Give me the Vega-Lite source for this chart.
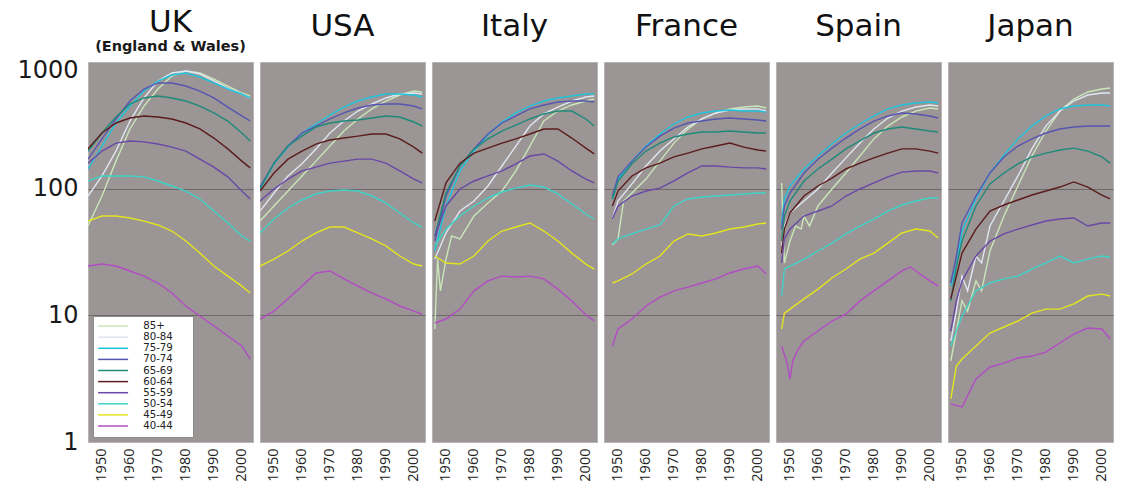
{
  "$schema": "https://vega.github.io/schema/vega-lite/v6.json",
  "background": "white",
  "padding": {"left": 16, "top": 6, "right": 3, "bottom": 2},
  "data": {
    "values": [
      {"c":"UK","yr":1945,"85+":50.7,"80-84":87.5,"75-79":143,"70-74":171,"65-69":198,"60-64":206,"55-59":159,"50-54":115,"45-49":55.5,"40-44":24.5},
      {"c":"UK","yr":1950,"85+":87.5,"80-84":126,"75-79":217,"70-74":247,"65-69":275,"60-64":275,"55-59":198,"50-54":126,"45-49":60.8,"40-44":25.4},
      {"c":"UK","yr":1955,"85+":165,"80-84":198,"75-79":330,"70-74":355,"65-69":368,"60-64":330,"55-59":229,"50-54":126,"45-49":60.8,"40-44":24.5},
      {"c":"UK","yr":1960,"85+":296,"80-84":342,"75-79":449,"70-74":492,"65-69":466,"60-64":361,"55-59":238,"50-54":126,"45-49":58.7,"40-44":22.4},
      {"c":"UK","yr":1965,"85+":449,"80-84":520,"75-79":590,"70-74":612,"65-69":520,"60-64":375,"55-59":234,"50-54":124,"45-49":55.5,"40-44":20.4},
      {"c":"UK","yr":1970,"85+":612,"80-84":708,"75-79":708,"70-74":683,"65-69":539,"60-64":368,"55-59":225,"50-54":115,"45-49":51.7,"40-44":18.0},
      {"c":"UK","yr":1975,"85+":775,"80-84":819,"75-79":789,"70-74":683,"65-69":520,"60-64":355,"55-59":213,"50-54":105,"45-49":46.3,"40-44":15.0},
      {"c":"UK","yr":1980,"85+":849,"80-84":849,"75-79":819,"70-74":646,"65-69":492,"60-64":330,"55-59":198,"50-54":95.8,"45-49":38.6,"40-44":11.85},
      {"c":"UK","yr":1985,"85+":819,"80-84":804,"75-79":761,"70-74":590,"65-69":449,"60-64":296,"55-59":171,"50-54":82.9,"45-49":31.0,"40-44":9.88},
      {"c":"UK","yr":1990,"85+":734,"80-84":708,"75-79":683,"70-74":520,"65-69":396,"60-64":251,"55-59":148,"50-54":66.6,"45-49":24.5,"40-44":8.24},
      {"c":"UK","yr":1995,"85+":646,"80-84":623,"75-79":612,"70-74":441,"65-69":342,"60-64":206,"55-59":124,"50-54":53.6,"45-49":20.4,"40-44":6.87},
      {"c":"UK","yr":2000,"85+":569,"80-84":559,"75-79":559,"70-74":375,"65-69":275,"60-64":165,"55-59":95.8,"50-54":42.3,"45-49":17.0,"40-44":5.73},
      {"c":"UK","yr":2003,"85+":539,"80-84":520,"75-79":520,"70-74":342,"65-69":238,"60-64":146,"55-59":82.9,"50-54":38.6,"45-49":15.0,"40-44":4.52},

      {"c":"USA","yr":1945,"85+":55.5,"80-84":66.6,"75-79":99.4,"70-74":103,"65-69":99.4,"60-64":95.8,"55-59":79.9,"50-54":44.7,"45-49":24.5,"40-44":9.35},
      {"c":"USA","yr":1950,"85+":73.0,"80-84":92.4,"75-79":157,"70-74":159,"65-69":159,"60-64":133,"55-59":99.4,"50-54":57.6,"45-49":27.8,"40-44":10.8},
      {"c":"USA","yr":1955,"85+":95.8,"80-84":126,"75-79":213,"70-74":217,"65-69":217,"60-64":171,"55-59":119,"50-54":70.4,"45-49":32.2,"40-44":13.5},
      {"c":"USA","yr":1960,"85+":126,"80-84":157,"75-79":275,"70-74":275,"65-69":260,"60-64":198,"55-59":138,"50-54":81.4,"45-49":38.6,"40-44":17.0},
      {"c":"USA","yr":1965,"85+":165,"80-84":206,"75-79":324,"70-74":312,"65-69":307,"60-64":225,"55-59":148,"50-54":90.8,"45-49":44.7,"40-44":21.6},
      {"c":"USA","yr":1970,"85+":217,"80-84":275,"75-79":381,"70-74":355,"65-69":330,"60-64":242,"55-59":159,"50-54":95.8,"45-49":49.8,"40-44":22.4},
      {"c":"USA","yr":1975,"85+":285,"80-84":342,"75-79":441,"70-74":396,"65-69":342,"60-64":251,"55-59":165,"50-54":97.6,"45-49":49.8,"40-44":19.4},
      {"c":"USA","yr":1980,"85+":355,"80-84":410,"75-79":492,"70-74":433,"65-69":348,"60-64":260,"55-59":171,"50-54":95.8,"45-49":44.7,"40-44":17.0},
      {"c":"USA","yr":1985,"85+":426,"80-84":466,"75-79":529,"70-74":458,"65-69":361,"60-64":270,"55-59":171,"50-54":87.5,"45-49":40.1,"40-44":15.0},
      {"c":"USA","yr":1990,"85+":492,"80-84":520,"75-79":559,"70-74":466,"65-69":375,"60-64":270,"55-59":159,"50-54":77.1,"45-49":35.3,"40-44":13.5},
      {"c":"USA","yr":1995,"85+":549,"80-84":559,"75-79":559,"70-74":466,"65-69":368,"60-64":247,"55-59":138,"50-54":64.3,"45-49":29.4,"40-44":11.85},
      {"c":"USA","yr":2000,"85+":590,"80-84":569,"75-79":549,"70-74":449,"65-69":336,"60-64":213,"55-59":119,"50-54":53.6,"45-49":25.4,"40-44":10.8},
      {"c":"USA","yr":2003,"85+":580,"80-84":559,"75-79":529,"70-74":426,"65-69":312,"60-64":191,"55-59":111,"50-54":49.8,"45-49":24.5,"40-44":10.2},

      {"c":"Italy","yr":1946,"85+":7.8,"80-84":27.8,"75-79":32.2,"70-74":38.6,"65-69":42.3,"60-64":55.5,"55-59":42.3,"50-54":35.3,"45-49":29.4,"40-44":8.7},
      {"c":"Italy","yr":1947,"85+":27.8},
      {"c":"Italy","yr":1948,"85+":15.6},
      {"c":"Italy","yr":1950,"85+":27.8,"80-84":44.7,"75-79":73.0,"70-74":87.5,"65-69":92.4,"60-64":111,"55-59":73.0,"50-54":48.0,"45-49":25.9,"40-44":9.35},
      {"c":"Italy","yr":1952,"85+":42.3},
      {"c":"Italy","yr":1955,"85+":40.1,"80-84":66.6,"75-79":138,"70-74":151,"65-69":151,"60-64":159,"55-59":99.4,"50-54":60.8,"45-49":25.4,"40-44":11.2},
      {"c":"Italy","yr":1960,"85+":60.8,"80-84":79.9,"75-79":198,"70-74":206,"65-69":206,"60-64":191,"55-59":115,"50-54":73.0,"45-49":29.4,"40-44":15.6},
      {"c":"Italy","yr":1965,"85+":77.1,"80-84":105,"75-79":265,"70-74":270,"65-69":247,"60-64":209,"55-59":126,"50-54":84.4,"45-49":38.6,"40-44":18.7},
      {"c":"Italy","yr":1970,"85+":95.8,"80-84":151,"75-79":336,"70-74":330,"65-69":285,"60-64":229,"55-59":138,"50-54":94.1,"45-49":46.3,"40-44":20.4},
      {"c":"Italy","yr":1975,"85+":138,"80-84":217,"75-79":396,"70-74":375,"65-69":318,"60-64":247,"55-59":157,"50-54":101,"45-49":49.8,"40-44":20.1},
      {"c":"Italy","yr":1980,"85+":217,"80-84":312,"75-79":449,"70-74":426,"65-69":355,"60-64":270,"55-59":181,"50-54":107,"45-49":53.6,"40-44":20.4},
      {"c":"Italy","yr":1985,"85+":342,"80-84":389,"75-79":492,"70-74":458,"65-69":389,"60-64":296,"55-59":188,"50-54":103,"45-49":46.3,"40-44":19.4},
      {"c":"Italy","yr":1990,"85+":410,"80-84":441,"75-79":520,"70-74":483,"65-69":410,"60-64":296,"55-59":165,"50-54":90.8,"45-49":38.6,"40-44":16.1},
      {"c":"Italy","yr":1995,"85+":458,"80-84":492,"75-79":539,"70-74":492,"65-69":410,"60-64":251,"55-59":138,"50-54":75.7,"45-49":31.0,"40-44":13.0},
      {"c":"Italy","yr":2000,"85+":492,"80-84":529,"75-79":559,"70-74":492,"65-69":355,"60-64":209,"55-59":119,"50-54":63.1,"45-49":25.4,"40-44":10.1},
      {"c":"Italy","yr":2003,"85+":510,"80-84":539,"75-79":559,"70-74":483,"65-69":312,"60-64":188,"55-59":111,"50-54":57.6,"45-49":23.2,"40-44":9.02},

      {"c":"France","yr":1948,"85+":35.9,"80-84":57.6,"75-79":82.9,"70-74":87.5,"65-69":82.9,"60-64":73.0,"55-59":57.6,"50-54":36.6,"45-49":18.0,"40-44":5.73},
      {"c":"France","yr":1950,"85+":40.1,"80-84":79.9,"75-79":119,"70-74":124,"65-69":115,"60-64":95.8,"55-59":73.0,"50-54":40.1,"45-49":18.7,"40-44":7.8},
      {"c":"France","yr":1952,"85+":79.9},
      {"c":"France","yr":1955,"85+":92.4,"80-84":109,"75-79":165,"70-74":165,"65-69":157,"60-64":126,"55-59":87.5,"50-54":43.9,"45-49":21.2,"40-44":9.35},
      {"c":"France","yr":1960,"85+":119,"80-84":151,"75-79":217,"70-74":213,"65-69":198,"60-64":146,"55-59":95.8,"50-54":48.0,"45-49":25.4,"40-44":11.85},
      {"c":"France","yr":1965,"85+":165,"80-84":198,"75-79":270,"70-74":260,"65-69":229,"60-64":159,"55-59":101,"50-54":51.7,"45-49":29.4,"40-44":13.9},
      {"c":"France","yr":1970,"85+":229,"80-84":247,"75-79":324,"70-74":301,"65-69":256,"60-64":178,"55-59":115,"50-54":73.0,"45-49":38.6,"40-44":15.6},
      {"c":"France","yr":1975,"85+":296,"80-84":307,"75-79":368,"70-74":330,"65-69":270,"60-64":191,"55-59":133,"50-54":82.9,"45-49":43.9,"40-44":16.7},
      {"c":"France","yr":1980,"85+":355,"80-84":355,"75-79":396,"70-74":342,"65-69":280,"60-64":206,"55-59":151,"50-54":85.9,"45-49":42.3,"40-44":18.0},
      {"c":"France","yr":1985,"85+":396,"80-84":396,"75-79":410,"70-74":355,"65-69":280,"60-64":217,"55-59":151,"50-54":87.5,"45-49":44.7,"40-44":19.4},
      {"c":"France","yr":1990,"85+":426,"80-84":418,"75-79":418,"70-74":361,"65-69":285,"60-64":229,"55-59":148,"50-54":89.1,"45-49":48.0,"40-44":21.6},
      {"c":"France","yr":1995,"85+":441,"80-84":426,"75-79":410,"70-74":355,"65-69":280,"60-64":213,"55-59":146,"50-54":90.8,"45-49":49.8,"40-44":23.2},
      {"c":"France","yr":2000,"85+":449,"80-84":426,"75-79":410,"70-74":348,"65-69":275,"60-64":202,"55-59":146,"50-54":92.4,"45-49":52.6,"40-44":24.5},
      {"c":"France","yr":2003,"85+":433,"80-84":410,"75-79":403,"70-74":342,"65-69":275,"60-64":198,"55-59":143,"50-54":92.4,"45-49":53.6,"40-44":21.2},

      {"c":"Spain","yr":1947,"85+":111,"80-84":35.3,"75-79":53.6,"70-74":48.0,"65-69":38.6,"60-64":31.0,"55-59":25.9,"50-54":14.2,"45-49":7.8,"40-44":5.73},
      {"c":"Spain","yr":1948,"85+":25.9,"80-84":50.7,"75-79":82.9,"70-74":73.0,"65-69":60.8,"60-64":48.0,"55-59":40.1,"50-54":23.2,"45-49":10.4},
      {"c":"Spain","yr":1949,"40-44":4.2},
      {"c":"Spain","yr":1950,"85+":38.6,"80-84":64.3,"75-79":105,"70-74":92.4,"65-69":79.9,"60-64":64.3,"55-59":48.0,"50-54":24.5,"45-49":11.2,"40-44":3.14},
      {"c":"Spain","yr":1951,"40-44":4.36},
      {"c":"Spain","yr":1952,"85+":50.7},
      {"c":"Spain","yr":1953,"40-44":5.42},
      {"c":"Spain","yr":1954,"85+":48.0},
      {"c":"Spain","yr":1955,"85+":60.8,"80-84":79.9,"75-79":143,"70-74":133,"65-69":115,"60-64":87.5,"55-59":60.8,"50-54":27.8,"45-49":13.5,"40-44":6.27},
      {"c":"Spain","yr":1957,"85+":50.7},
      {"c":"Spain","yr":1960,"85+":73.0,"80-84":99.4,"75-79":181,"70-74":171,"65-69":143,"60-64":105,"55-59":66.6,"50-54":32.2,"45-49":16.1,"40-44":7.52},
      {"c":"Spain","yr":1965,"85+":99.4,"80-84":133,"75-79":225,"70-74":209,"65-69":171,"60-64":121,"55-59":73.0,"50-54":37.2,"45-49":19.7,"40-44":9.02},
      {"c":"Spain","yr":1970,"85+":133,"80-84":175,"75-79":275,"70-74":251,"65-69":206,"60-64":143,"55-59":87.5,"50-54":43.9,"45-49":23.2,"40-44":10.2},
      {"c":"Spain","yr":1975,"85+":181,"80-84":229,"75-79":324,"70-74":296,"65-69":238,"60-64":159,"55-59":99.4,"50-54":50.7,"45-49":27.8,"40-44":13.0},
      {"c":"Spain","yr":1980,"85+":247,"80-84":296,"75-79":375,"70-74":342,"65-69":275,"60-64":175,"55-59":111,"50-54":57.6,"45-49":31.0,"40-44":15.6},
      {"c":"Spain","yr":1985,"85+":312,"80-84":361,"75-79":426,"70-74":375,"65-69":296,"60-64":191,"55-59":124,"50-54":66.6,"45-49":37.2,"40-44":18.7},
      {"c":"Spain","yr":1990,"85+":368,"80-84":410,"75-79":458,"70-74":396,"65-69":307,"60-64":206,"55-59":135,"50-54":74.3,"45-49":44.7,"40-44":22.4},
      {"c":"Spain","yr":1993,"40-44":24.1},
      {"c":"Spain","yr":1995,"85+":410,"80-84":441,"75-79":475,"70-74":389,"65-69":296,"60-64":206,"55-59":138,"50-54":79.9,"45-49":48.0,"40-44":22.4},
      {"c":"Spain","yr":2000,"85+":433,"80-84":458,"75-79":483,"70-74":375,"65-69":285,"60-64":198,"55-59":138,"50-54":84.4,"45-49":46.3,"40-44":18.7},
      {"c":"Spain","yr":2003,"85+":426,"80-84":449,"75-79":475,"70-74":361,"65-69":280,"60-64":191,"55-59":133,"50-54":84.4,"45-49":40.8,"40-44":17.0},

      {"c":"Japan","yr":1946,"85+":4.36,"80-84":6.27,"75-79":17.0,"70-74":18.0,"65-69":13.0,"60-64":13.5,"55-59":7.52,"50-54":5.73,"45-49":2.19,"40-44":2.0},
      {"c":"Japan","yr":1948,"85+":7.52,"80-84":10.8,"75-79":24.5,"70-74":29.4,"65-69":24.5,"60-64":20.4,"55-59":13.0,"45-49":3.98},
      {"c":"Japan","yr":1950,"85+":13.0,"80-84":20.4,"75-79":46.3,"70-74":53.6,"65-69":38.6,"60-64":31.0,"55-59":18.7,"50-54":9.88,"45-49":4.52,"40-44":1.89},
      {"c":"Japan","yr":1952,"85+":10.8,"80-84":15.6},
      {"c":"Japan","yr":1955,"85+":18.7,"80-84":29.4,"75-79":82.9,"70-74":87.5,"65-69":73.0,"60-64":48.0,"55-59":29.4,"50-54":15.6,"45-49":5.73,"40-44":3.14},
      {"c":"Japan","yr":1957,"85+":15.6,"80-84":25.9},
      {"c":"Japan","yr":1960,"85+":32.2,"80-84":50.7,"75-79":133,"70-74":133,"65-69":109,"60-64":66.6,"55-59":38.6,"50-54":18.0,"45-49":7.25,"40-44":3.91},
      {"c":"Japan","yr":1965,"85+":60.8,"80-84":79.9,"75-79":184,"70-74":178,"65-69":133,"60-64":74.3,"55-59":43.9,"50-54":19.4,"45-49":8.09,"40-44":4.2},
      {"c":"Japan","yr":1970,"85+":105,"80-84":126,"75-79":247,"70-74":217,"65-69":157,"60-64":81.4,"55-59":48.0,"50-54":20.4,"45-49":9.02,"40-44":4.6},
      {"c":"Japan","yr":1975,"85+":181,"80-84":206,"75-79":312,"70-74":247,"65-69":178,"60-64":89.1,"55-59":51.7,"50-54":23.2,"45-49":10.4,"40-44":4.77},
      {"c":"Japan","yr":1980,"85+":285,"80-84":312,"75-79":375,"70-74":275,"65-69":191,"60-64":95.8,"55-59":55.5,"50-54":25.9,"45-49":11.2,"40-44":5.13},
      {"c":"Japan","yr":1985,"85+":410,"80-84":410,"75-79":426,"70-74":296,"65-69":202,"60-64":103,"55-59":57.6,"50-54":29.4,"45-49":11.2,"40-44":6.05},
      {"c":"Japan","yr":1990,"85+":510,"80-84":492,"75-79":449,"70-74":307,"65-69":209,"60-64":113,"55-59":58.7,"50-54":25.9,"45-49":12.3,"40-44":7.12},
      {"c":"Japan","yr":1995,"85+":580,"80-84":549,"75-79":458,"70-74":312,"65-69":198,"60-64":103,"55-59":50.7,"50-54":27.8,"45-49":14.2,"40-44":7.94},
      {"c":"Japan","yr":2000,"85+":612,"80-84":569,"75-79":458,"70-74":312,"65-69":178,"60-64":89.1,"55-59":53.6,"50-54":29.4,"45-49":14.7,"40-44":7.8},
      {"c":"Japan","yr":2003,"85+":623,"80-84":569,"75-79":449,"70-74":312,"65-69":159,"60-64":82.9,"55-59":53.6,"50-54":28.9,"45-49":14.2,"40-44":6.5}
    ]
  },
  "transform": [
    {"fold": ["85+", "80-84", "75-79", "70-74", "65-69", "60-64", "55-59", "50-54", "45-49", "40-44"], "as": ["age", "rate"]},
    {"filter": "isValid(datum.rate)"}
  ],
  "spacing": 5,
  "resolve": {"legend": {"color": "independent"}},
  "hconcat": [
    {
      "width": 165, "height": 380,
      "title": {"text": "UK", "subtitle": "(England & Wales)"},
      "transform": [{"filter": "datum.c === 'UK'"}],
      "mark": {"type": "line", "strokeWidth": 1.4, "clip": true},
      "encoding": {
        "x": {"field": "yr", "type": "quantitative", "scale": {"domain": [1945, 2004], "nice": false, "zero": false}},
        "y": {"field": "rate", "type": "quantitative", "scale": {"type": "log", "domain": [1, 1000], "nice": false},
              "axis": {"values": [1, 10, 100, 1000], "labels": true, "labelFontSize": 24, "labelFont": "DejaVu Sans", "labelColor": "#1a1a1a", "labelPadding": 10, "labelFlush": false, "format": "d",
                       "labelBaseline": {"condition": {"test": "datum.value === 1000", "value": "top"}, "value": "middle"},
                       "labelOffset": {"condition": {"test": "datum.value === 1000", "value": -4}, "value": 0}}},
        "color": {"field": "age", "type": "nominal",
                  "scale": {"domain": ["85+", "80-84", "75-79", "70-74", "65-69", "60-64", "55-59", "50-54", "45-49", "40-44"],
                            "range": ["#c9e6b9", "#dfe6f1", "#1fc3dc", "#5656b0", "#1f8a7a", "#5c1c1c", "#6a48a6", "#3fd3c8", "#e3e51f", "#b24cc4"]},
                  "legend": {"orient": "bottom-left", "offset": 5, "title": null, "fillColor": "white", "strokeColor": "#8a8a8a",
                             "padding": 5, "symbolType": "M-1.25,0H6.25", "symbolSize": 64, "symbolStrokeWidth": 1.5,
                             "labelFontSize": 10.2, "labelFont": "DejaVu Sans", "labelColor": "#222", "labelOffset": 35, "rowPadding": 0.1,
                             "labelExpr": "datum.label + '\u2800\u2800'"}}
      }
    },
    {
      "width": 165, "height": 380,
      "title": {"text": "USA", "subtitle": " "},
      "transform": [{"filter": "datum.c === 'USA'"}],
      "mark": {"type": "line", "strokeWidth": 1.4, "clip": true},
      "encoding": {
        "x": {"field": "yr", "type": "quantitative", "scale": {"domain": [1945, 2004], "nice": false, "zero": false}},
        "y": {"field": "rate", "type": "quantitative", "scale": {"type": "log", "domain": [1, 1000], "nice": false}, "axis": {"labels": false}},
        "color": {"field": "age", "type": "nominal", "legend": null}
      }
    },
    {
      "width": 165, "height": 380,
      "title": {"text": "Italy", "subtitle": " "},
      "transform": [{"filter": "datum.c === 'Italy'"}],
      "mark": {"type": "line", "strokeWidth": 1.4, "clip": true},
      "encoding": {
        "x": {"field": "yr", "type": "quantitative", "scale": {"domain": [1945, 2004], "nice": false, "zero": false}},
        "y": {"field": "rate", "type": "quantitative", "scale": {"type": "log", "domain": [1, 1000], "nice": false}, "axis": {"labels": false}},
        "color": {"field": "age", "type": "nominal", "legend": null}
      }
    },
    {
      "width": 165, "height": 380,
      "title": {"text": "France", "subtitle": " "},
      "transform": [{"filter": "datum.c === 'France'"}],
      "mark": {"type": "line", "strokeWidth": 1.4, "clip": true},
      "encoding": {
        "x": {"field": "yr", "type": "quantitative", "scale": {"domain": [1945, 2004], "nice": false, "zero": false}},
        "y": {"field": "rate", "type": "quantitative", "scale": {"type": "log", "domain": [1, 1000], "nice": false}, "axis": {"labels": false}},
        "color": {"field": "age", "type": "nominal", "legend": null}
      }
    },
    {
      "width": 165, "height": 380,
      "title": {"text": "Spain", "subtitle": " "},
      "transform": [{"filter": "datum.c === 'Spain'"}],
      "mark": {"type": "line", "strokeWidth": 1.4, "clip": true},
      "encoding": {
        "x": {"field": "yr", "type": "quantitative", "scale": {"domain": [1945, 2004], "nice": false, "zero": false}},
        "y": {"field": "rate", "type": "quantitative", "scale": {"type": "log", "domain": [1, 1000], "nice": false}, "axis": {"labels": false}},
        "color": {"field": "age", "type": "nominal", "legend": null}
      }
    },
    {
      "width": 165, "height": 380,
      "title": {"text": "Japan", "subtitle": " "},
      "transform": [{"filter": "datum.c === 'Japan'"}],
      "mark": {"type": "line", "strokeWidth": 1.4, "clip": true},
      "encoding": {
        "x": {"field": "yr", "type": "quantitative", "scale": {"domain": [1945, 2004], "nice": false, "zero": false}},
        "y": {"field": "rate", "type": "quantitative", "scale": {"type": "log", "domain": [1, 1000], "nice": false}, "axis": {"labels": false}},
        "color": {"field": "age", "type": "nominal", "legend": null}
      }
    }
  ],
  "config": {
    "font": "Open Sans",
    "view": {"fill": "#9b9595", "stroke": "#b8b3b3", "strokeWidth": 1},
    "title": {"fontSize": 31, "font": "DejaVu Sans", "fontWeight": "normal", "color": "#111111", "anchor": "middle",
              "subtitleFontSize": 14.5, "subtitleFont": "DejaVu Sans", "subtitleFontWeight": "bold", "subtitleColor": "#1a1a1a",
              "subtitlePadding": 1, "offset": 4},
    "axisX": {"values": [1950, 1960, 1970, 1980, 1990, 2000], "format": "d", "labelAngle": -90, "labelFontSize": 14.5,
              "labelFont": "Open Sans", "labelColor": "#222222", "labelPadding": 6, "ticks": false, "domain": false,
              "grid": false, "title": null},
    "axisY": {"values": [1, 10, 100, 1000], "ticks": false, "domain": false, "title": null, "grid": true,
              "gridWidth": 0.9,
              "gridColor": {"condition": {"test": "datum.value === 10 || datum.value === 100", "value": "#6a6464"}, "value": "transparent"}}
  }
}
